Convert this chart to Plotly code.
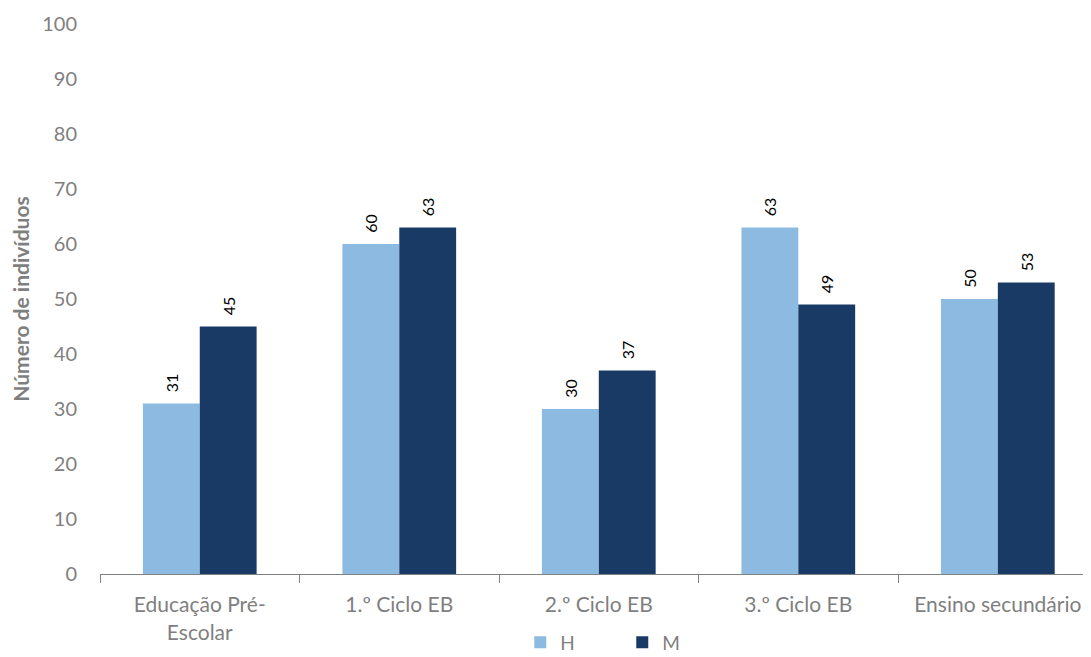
import plotly.graph_objects as go

categories = ["Educação Pré-<br>Escolar", "1.º Ciclo EB", "2.º Ciclo EB", "3.º Ciclo EB", "Ensino secundário"]
h_values = [31, 60, 30, 63, 50]
m_values = [45, 63, 37, 49, 53]
y_ticks = [0, 10, 20, 30, 40, 50, 60, 70, 80, 90, 100]

H_COLOR = "#8DBAE0"
M_COLOR = "#1A3A66"
GRAY = "#7F7F7F"
FONT = "Lato, 'Open Sans', sans-serif"
PAD = "\u00a0\u00a0"

fig = go.Figure()
fig.add_trace(go.Bar(
    name="H", x=categories, y=h_values, marker=dict(color=H_COLOR, line=dict(width=0)),
    text=[PAD + str(v) for v in h_values], textposition="outside", textangle=-90,
    textfont=dict(color="#000000", size=16, family=FONT), cliponaxis=False,
))
fig.add_trace(go.Bar(
    name="M", x=categories, y=m_values, marker=dict(color=M_COLOR, line=dict(width=0)),
    text=[PAD + str(v) for v in m_values], textposition="outside", textangle=-90,
    textfont=dict(color="#000000", size=16, family=FONT), cliponaxis=False,
))

fig.update_layout(
    width=1083, height=649,
    margin=dict(l=92, r=0, t=16, b=83, autoexpand=False),
    paper_bgcolor="white", plot_bgcolor="white",
    barmode="group", bargap=0.43, bargroupgap=0,
    font=dict(family=FONT, color=GRAY, size=20),
    legend=dict(orientation="h", x=0.527, xanchor="center", y=-0.09, yanchor="top",
                font=dict(size=19, color=GRAY), itemwidth=30, traceorder="normal",
                entrywidth=57, bgcolor="rgba(0,0,0,0)"),
    xaxis=dict(
        range=[-0.5, 4.467], showline=True, linecolor="#808080", linewidth=1,
        ticks="outside", tickson="boundaries", ticklen=8, tickcolor="#808080",
        tickfont=dict(size=21, color=GRAY, family=FONT), showgrid=False, automargin=False,
        ticklabelstandoff=12,
    ),
    yaxis=dict(
        range=[0, 100], tickvals=y_ticks, showgrid=False, zeroline=False, showline=False,
        tickfont=dict(size=20, color=GRAY, family=FONT), ticklabelstandoff=22, automargin=False,
        title=dict(text="<b>Número de indivíduos</b>", font=dict(size=21, color=GRAY, family=FONT), standoff=14),
    ),
)

fig.write_html("out.html")
